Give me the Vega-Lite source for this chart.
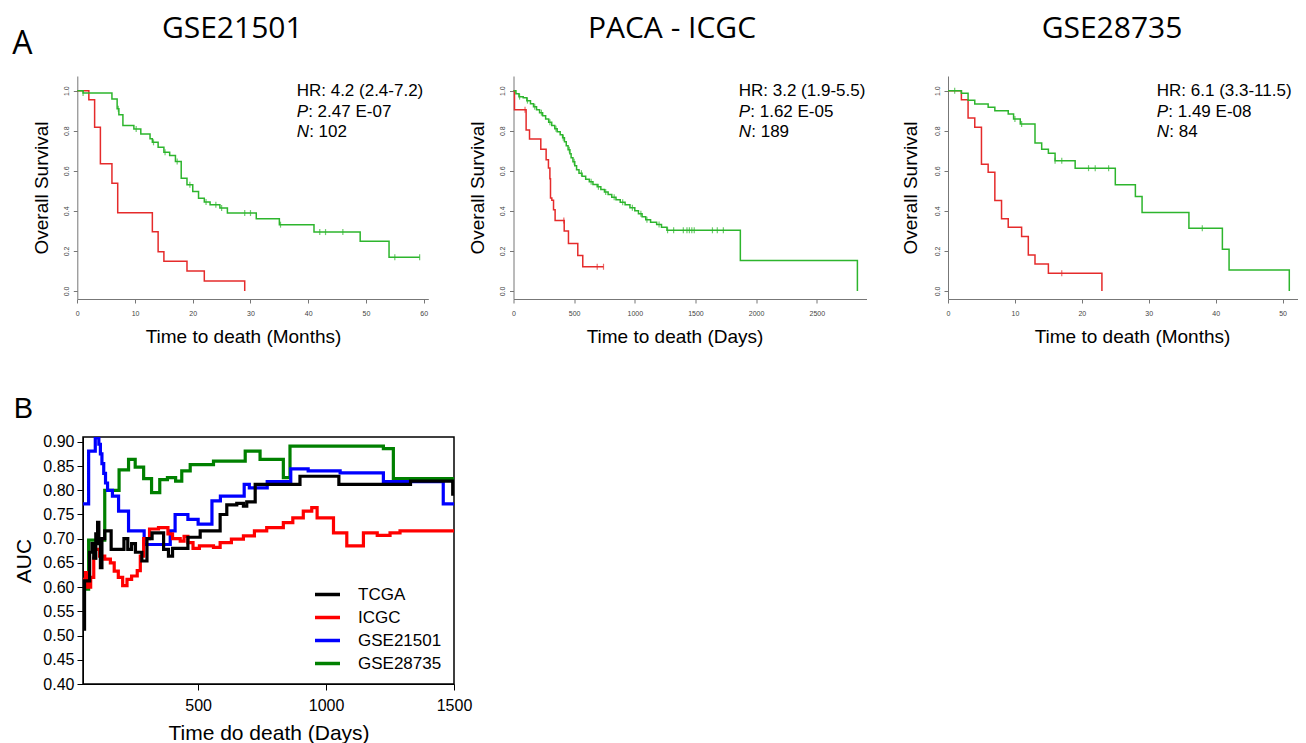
{
 "$schema": "https://vega.github.io/schema/vega-lite/v6.json",
 "padding": {"left": 12, "top": 14, "right": 0, "bottom": 0},
 "background": "white",
 "resolve": {"scale": {"color": "independent"}},
 "config": {"view": {"stroke": null}, "axis": {"grid": false, "labelFont": "Liberation Sans", "titleFont": "Liberation Sans", "titleFontWeight": "normal", "titleColor": "black", "labelOverlap": false, "labelFlush": false}},
 "datasets": {
  "km1": [
   {"g":"high","t":0,"s":1.0},{"g":"high","t":2,"s":0.955},{"g":"high","t":3,"s":0.817},{"g":"high","t":4,"s":0.635},{"g":"high","t":6,"s":0.538},{"g":"high","t":7,"s":0.39},{"g":"high","t":13,"s":0.296},{"g":"high","t":14,"s":0.196},{"g":"high","t":15,"s":0.148},{"g":"high","t":19,"s":0.1},{"g":"high","t":22,"s":0.05},{"g":"high","t":29,"s":0.0},
   {"g":"low","t":0,"s":1.0},{"g":"low","t":1,"s":0.988},{"g":"low","t":6,"s":0.958},{"g":"low","t":6.9,"s":0.909},{"g":"low","t":7.2,"s":0.88},{"g":"low","t":7.9,"s":0.826},{"g":"low","t":9.8,"s":0.809},{"g":"low","t":11,"s":0.784},{"g":"low","t":12.6,"s":0.76},{"g":"low","t":13,"s":0.742},{"g":"low","t":14,"s":0.718},{"g":"low","t":15,"s":0.693},{"g":"low","t":16,"s":0.676},{"g":"low","t":17,"s":0.646},{"g":"low","t":18,"s":0.563},{"g":"low","t":19,"s":0.53},{"g":"low","t":20,"s":0.497},{"g":"low","t":21,"s":0.463},{"g":"low","t":22,"s":0.444},{"g":"low","t":23,"s":0.43},{"g":"low","t":24.7,"s":0.414},{"g":"low","t":26,"s":0.389},{"g":"low","t":31,"s":0.36},{"g":"low","t":35,"s":0.331},{"g":"low","t":41,"s":0.294},{"g":"low","t":49,"s":0.248},{"g":"low","t":54,"s":0.168},{"g":"low","t":59.3,"s":0.168}
  ],
  "km1c": [
   {"g":"low","t":1,"s":0.988},{"g":"low","t":7.1,"s":0.909},{"g":"low","t":10.2,"s":0.809},{"g":"low","t":13.2,"s":0.742},{"g":"low","t":15.2,"s":0.693},{"g":"low","t":17.3,"s":0.646},{"g":"low","t":19.5,"s":0.53},{"g":"low","t":22.3,"s":0.444},{"g":"low","t":24,"s":0.43},{"g":"low","t":25,"s":0.414},{"g":"low","t":29,"s":0.389},{"g":"low","t":30,"s":0.389},{"g":"low","t":35.2,"s":0.331},{"g":"low","t":42,"s":0.294},{"g":"low","t":43,"s":0.294},{"g":"low","t":46,"s":0.294},{"g":"low","t":55,"s":0.168},{"g":"low","t":59.3,"s":0.168}
  ],
  "km2": [
   {"g":"high","t":0,"s":1.0},{"g":"high","t":8,"s":0.904},{"g":"high","t":104,"s":0.804},{"g":"high","t":132,"s":0.758},{"g":"high","t":225,"s":0.708},{"g":"high","t":269,"s":0.655},{"g":"high","t":288,"s":0.614},{"g":"high","t":300,"s":0.56},{"g":"high","t":305,"s":0.464},{"g":"high","t":316,"s":0.453},{"g":"high","t":330,"s":0.406},{"g":"high","t":343,"s":0.352},{"g":"high","t":418,"s":0.299},{"g":"high","t":453,"s":0.237},{"g":"high","t":530,"s":0.177},{"g":"high","t":571,"s":0.121},{"g":"high","t":742,"s":0.121},
   {"g":"low","t":0,"s":1.0},{"g":"low","t":20,"s":0.985},{"g":"low","t":45,"s":0.97},{"g":"low","t":80,"s":0.965},{"g":"low","t":110,"s":0.95},{"g":"low","t":140,"s":0.935},{"g":"low","t":165,"s":0.92},{"g":"low","t":190,"s":0.905},{"g":"low","t":215,"s":0.89},{"g":"low","t":240,"s":0.875},{"g":"low","t":265,"s":0.858},{"g":"low","t":290,"s":0.842},{"g":"low","t":315,"s":0.826},{"g":"low","t":340,"s":0.81},{"g":"low","t":360,"s":0.795},{"g":"low","t":385,"s":0.78},{"g":"low","t":405,"s":0.765},{"g":"low","t":420,"s":0.745},{"g":"low","t":435,"s":0.725},{"g":"low","t":450,"s":0.705},{"g":"low","t":465,"s":0.685},{"g":"low","t":475,"s":0.665},{"g":"low","t":490,"s":0.645},{"g":"low","t":505,"s":0.625},{"g":"low","t":520,"s":0.605},{"g":"low","t":540,"s":0.588},{"g":"low","t":565,"s":0.573},{"g":"low","t":595,"s":0.558},{"g":"low","t":625,"s":0.545},{"g":"low","t":655,"s":0.532},{"g":"low","t":690,"s":0.52},{"g":"low","t":720,"s":0.507},{"g":"low","t":750,"s":0.494},{"g":"low","t":780,"s":0.481},{"g":"low","t":810,"s":0.468},{"g":"low","t":845,"s":0.455},{"g":"low","t":880,"s":0.443},{"g":"low","t":920,"s":0.43},{"g":"low","t":960,"s":0.415},{"g":"low","t":1000,"s":0.4},{"g":"low","t":1030,"s":0.385},{"g":"low","t":1060,"s":0.37},{"g":"low","t":1090,"s":0.355},{"g":"low","t":1130,"s":0.343},{"g":"low","t":1180,"s":0.332},{"g":"low","t":1220,"s":0.318},{"g":"low","t":1265,"s":0.303},{"g":"low","t":1870,"s":0.152},{"g":"low","t":2835,"s":0.0}
  ],
  "km2c": [
   {"g":"high","t":95,"s":0.904},{"g":"high","t":415,"s":0.352},{"g":"high","t":690,"s":0.121},{"g":"high","t":742,"s":0.121},
   {"g":"low","t":50,"s":0.97},{"g":"low","t":115,"s":0.95},{"g":"low","t":175,"s":0.92},{"g":"low","t":230,"s":0.89},{"g":"low","t":300,"s":0.842},{"g":"low","t":350,"s":0.81},{"g":"low","t":410,"s":0.765},{"g":"low","t":460,"s":0.705},{"g":"low","t":500,"s":0.645},{"g":"low","t":560,"s":0.588},{"g":"low","t":640,"s":0.545},{"g":"low","t":700,"s":0.52},{"g":"low","t":760,"s":0.494},{"g":"low","t":830,"s":0.468},{"g":"low","t":900,"s":0.443},{"g":"low","t":980,"s":0.415},{"g":"low","t":1050,"s":0.385},{"g":"low","t":1100,"s":0.355},{"g":"low","t":1200,"s":0.332},{"g":"low","t":1270,"s":0.303},{"g":"low","t":1320,"s":0.303},{"g":"low","t":1400,"s":0.303},{"g":"low","t":1430,"s":0.303},{"g":"low","t":1450,"s":0.303},{"g":"low","t":1470,"s":0.303},{"g":"low","t":1490,"s":0.303},{"g":"low","t":1640,"s":0.303},{"g":"low","t":1680,"s":0.303},{"g":"low","t":1730,"s":0.303}
  ],
  "km3": [
   {"g":"high","t":0,"s":1.0},{"g":"high","t":2,"s":0.955},{"g":"high","t":3,"s":0.863},{"g":"high","t":4,"s":0.817},{"g":"high","t":5,"s":0.633},{"g":"high","t":6,"s":0.592},{"g":"high","t":7,"s":0.452},{"g":"high","t":8,"s":0.36},{"g":"high","t":9,"s":0.318},{"g":"high","t":11,"s":0.272},{"g":"high","t":12,"s":0.18},{"g":"high","t":13,"s":0.135},{"g":"high","t":15,"s":0.088},{"g":"high","t":23,"s":0.0},
   {"g":"low","t":0,"s":1.0},{"g":"low","t":2,"s":0.987},{"g":"low","t":3,"s":0.952},{"g":"low","t":4,"s":0.933},{"g":"low","t":6,"s":0.917},{"g":"low","t":7,"s":0.9},{"g":"low","t":9,"s":0.883},{"g":"low","t":9.8,"s":0.858},{"g":"low","t":10.8,"s":0.833},{"g":"low","t":13,"s":0.738},{"g":"low","t":14,"s":0.708},{"g":"low","t":15,"s":0.688},{"g":"low","t":16,"s":0.65},{"g":"low","t":19,"s":0.613},{"g":"low","t":25,"s":0.53},{"g":"low","t":28,"s":0.472},{"g":"low","t":29,"s":0.392},{"g":"low","t":36,"s":0.313},{"g":"low","t":41,"s":0.208},{"g":"low","t":42,"s":0.105},{"g":"low","t":51,"s":0.0}
  ],
  "km3c": [
   {"g":"high","t":17,"s":0.088},
   {"g":"low","t":1,"s":1.0},{"g":"low","t":10,"s":0.858},{"g":"low","t":11,"s":0.833},{"g":"low","t":16,"s":0.65},{"g":"low","t":17,"s":0.65},{"g":"low","t":21,"s":0.613},{"g":"low","t":22,"s":0.613},{"g":"low","t":24,"s":0.613},{"g":"low","t":38,"s":0.313}
  ],
  "auc": [
   {"set":"GSE28735","day":50,"auc":0.596},{"set":"GSE28735","day":72,"auc":0.697},{"set":"GSE28735","day":135,"auc":0.80},{"set":"GSE28735","day":191,"auc":0.842},{"set":"GSE28735","day":228,"auc":0.864},{"set":"GSE28735","day":254,"auc":0.848},{"set":"GSE28735","day":287,"auc":0.824},{"set":"GSE28735","day":318,"auc":0.795},{"set":"GSE28735","day":350,"auc":0.822},{"set":"GSE28735","day":380,"auc":0.826},{"set":"GSE28735","day":412,"auc":0.819},{"set":"GSE28735","day":436,"auc":0.84},{"set":"GSE28735","day":469,"auc":0.853},{"set":"GSE28735","day":560,"auc":0.86},{"set":"GSE28735","day":684,"auc":0.881},{"set":"GSE28735","day":742,"auc":0.864},{"set":"GSE28735","day":833,"auc":0.826},{"set":"GSE28735","day":859,"auc":0.891},{"set":"GSE28735","day":1224,"auc":0.886},{"set":"GSE28735","day":1263,"auc":0.824},{"set":"GSE28735","day":1500,"auc":0.824},
   {"set":"GSE21501","day":50,"auc":0.772},{"set":"GSE21501","day":72,"auc":0.881},{"set":"GSE21501","day":98,"auc":0.908},{"set":"GSE21501","day":112,"auc":0.895},{"set":"GSE21501","day":118,"auc":0.875},{"set":"GSE21501","day":124,"auc":0.855},{"set":"GSE21501","day":131,"auc":0.835},{"set":"GSE21501","day":138,"auc":0.815},{"set":"GSE21501","day":146,"auc":0.80},{"set":"GSE21501","day":165,"auc":0.788},{"set":"GSE21501","day":189,"auc":0.757},{"set":"GSE21501","day":228,"auc":0.716},{"set":"GSE21501","day":289,"auc":0.688},{"set":"GSE21501","day":391,"auc":0.716},{"set":"GSE21501","day":410,"auc":0.75},{"set":"GSE21501","day":460,"auc":0.74},{"set":"GSE21501","day":500,"auc":0.73},{"set":"GSE21501","day":554,"auc":0.778},{"set":"GSE21501","day":587,"auc":0.788},{"set":"GSE21501","day":680,"auc":0.812},{"set":"GSE21501","day":700,"auc":0.805},{"set":"GSE21501","day":770,"auc":0.818},{"set":"GSE21501","day":862,"auc":0.844},{"set":"GSE21501","day":930,"auc":0.84},{"set":"GSE21501","day":1055,"auc":0.836},{"set":"GSE21501","day":1224,"auc":0.818},{"set":"GSE21501","day":1458,"auc":0.772},{"set":"GSE21501","day":1500,"auc":0.772},
   {"set":"ICGC","day":50,"auc":0.616},{"set":"ICGC","day":60,"auc":0.63},{"set":"ICGC","day":68,"auc":0.60},{"set":"ICGC","day":80,"auc":0.62},{"set":"ICGC","day":92,"auc":0.66},{"set":"ICGC","day":98,"auc":0.678},{"set":"ICGC","day":115,"auc":0.664},{"set":"ICGC","day":135,"auc":0.658},{"set":"ICGC","day":157,"auc":0.65},{"set":"ICGC","day":172,"auc":0.633},{"set":"ICGC","day":188,"auc":0.62},{"set":"ICGC","day":205,"auc":0.603},{"set":"ICGC","day":222,"auc":0.616},{"set":"ICGC","day":240,"auc":0.623},{"set":"ICGC","day":262,"auc":0.634},{"set":"ICGC","day":274,"auc":0.664},{"set":"ICGC","day":287,"auc":0.70},{"set":"ICGC","day":310,"auc":0.72},{"set":"ICGC","day":345,"auc":0.723},{"set":"ICGC","day":382,"auc":0.71},{"set":"ICGC","day":400,"auc":0.70},{"set":"ICGC","day":430,"auc":0.695},{"set":"ICGC","day":445,"auc":0.705},{"set":"ICGC","day":460,"auc":0.692},{"set":"ICGC","day":480,"auc":0.68},{"set":"ICGC","day":505,"auc":0.685},{"set":"ICGC","day":560,"auc":0.682},{"set":"ICGC","day":586,"auc":0.692},{"set":"ICGC","day":630,"auc":0.699},{"set":"ICGC","day":677,"auc":0.706},{"set":"ICGC","day":720,"auc":0.716},{"set":"ICGC","day":768,"auc":0.723},{"set":"ICGC","day":833,"auc":0.733},{"set":"ICGC","day":870,"auc":0.743},{"set":"ICGC","day":911,"auc":0.757},{"set":"ICGC","day":944,"auc":0.764},{"set":"ICGC","day":965,"auc":0.743},{"set":"ICGC","day":1029,"auc":0.712},{"set":"ICGC","day":1081,"auc":0.685},{"set":"ICGC","day":1146,"auc":0.712},{"set":"ICGC","day":1200,"auc":0.707},{"set":"ICGC","day":1250,"auc":0.712},{"set":"ICGC","day":1289,"auc":0.716},{"set":"ICGC","day":1500,"auc":0.716},
   {"set":"TCGA","day":50,"auc":0.513},{"set":"TCGA","day":56,"auc":0.613},{"set":"TCGA","day":76,"auc":0.672},{"set":"TCGA","day":85,"auc":0.69},{"set":"TCGA","day":92,"auc":0.66},{"set":"TCGA","day":100,"auc":0.71},{"set":"TCGA","day":107,"auc":0.734},{"set":"TCGA","day":112,"auc":0.69},{"set":"TCGA","day":118,"auc":0.64},{"set":"TCGA","day":124,"auc":0.70},{"set":"TCGA","day":135,"auc":0.716},{"set":"TCGA","day":160,"auc":0.678},{"set":"TCGA","day":210,"auc":0.70},{"set":"TCGA","day":225,"auc":0.678},{"set":"TCGA","day":240,"auc":0.69},{"set":"TCGA","day":255,"auc":0.672},{"set":"TCGA","day":280,"auc":0.654},{"set":"TCGA","day":300,"auc":0.70},{"set":"TCGA","day":320,"auc":0.712},{"set":"TCGA","day":365,"auc":0.678},{"set":"TCGA","day":384,"auc":0.664},{"set":"TCGA","day":400,"auc":0.68},{"set":"TCGA","day":460,"auc":0.703},{"set":"TCGA","day":508,"auc":0.716},{"set":"TCGA","day":586,"auc":0.75},{"set":"TCGA","day":612,"auc":0.77},{"set":"TCGA","day":651,"auc":0.773},{"set":"TCGA","day":677,"auc":0.767},{"set":"TCGA","day":690,"auc":0.776},{"set":"TCGA","day":723,"auc":0.812},{"set":"TCGA","day":898,"auc":0.829},{"set":"TCGA","day":1050,"auc":0.812},{"set":"TCGA","day":1330,"auc":0.819},{"set":"TCGA","day":1495,"auc":0.792},{"set":"TCGA","day":1500,"auc":0.792}
  ]
 },
 "columns": 1,
 "align": "none",
 "spacing": 47,
 "concat": [
  {
   "title": {"text": "A", "anchor": "start", "frame": "bounds", "font": "Open Sans", "fontSize": 32, "fontWeight": "normal", "offset": -72, "dx": -20, "baseline": "alphabetic", "color": "black"},
   "spacing": 34.5,
   "hconcat": [
    {
     "width": 345.3, "height": 223,
     "title": {"text": "GSE21501", "font": "Open Sans", "fontSize": 30, "fontWeight": "normal", "frame": "group", "anchor": "middle", "dx": -23.4, "offset": 8, "baseline": "alphabetic", "color": "black"},
     "layer": [
      {"data": {"name": "km1"}, "mark": {"type": "line", "interpolate": "step-after", "strokeWidth": 1.5},
       "encoding": {
        "x": {"field": "t", "type": "quantitative", "scale": {"domain": [0, 60.8], "range": [-5.7, 345.3], "nice": false, "zero": false}, "axis": {"title": "Time to death (Months)", "values": [0,10,20,30,40,50,60], "format": "d", "labelFontSize": 7, "labelColor": "#444", "tickSize": 4, "tickColor": "#777", "domainColor": "#777", "labelPadding": 6.5, "titleFontSize": 19, "titlePadding": 11, "titleX": 160}},
        "y": {"field": "s", "type": "quantitative", "scale": {"domain": [-0.04, 1.073], "nice": false, "zero": false}, "axis": {"title": "Overall Survival", "offset": 5.7, "values": [0,0.2,0.4,0.6,0.8,1.0], "format": ".1f", "labelAngle": -90, "labelAlign": "center", "labelBaseline": "bottom", "labelFontSize": 7, "labelColor": "#444", "tickSize": 4, "tickColor": "#777", "domainColor": "#777", "labelPadding": 4, "titleFontSize": 19, "titlePadding": 11}},
        "color": {"field": "g", "type": "nominal", "scale": {"domain": ["high", "low"], "range": ["#E52B2B", "#2DB52D"]}, "legend": null}
       }},
      {"data": {"name": "km1c"}, "mark": {"type": "tick", "orient": "vertical", "size": 6, "thickness": 1.2},
       "encoding": {"x": {"field": "t", "type": "quantitative"}, "y": {"field": "s", "type": "quantitative"}, "color": {"field": "g", "type": "nominal", "legend": null}}},
      {"data": {"values": [{}]}, "mark": {"type": "text", "text": "HR: 4.2 (2.4-7.2)", "align": "left", "baseline": "middle", "font": "Liberation Sans", "fontSize": 17, "color": "black"}, "encoding": {"x": {"datum": 38}, "y": {"datum": 1.0}}},
      {"data": {"values": [{}]}, "mark": {"type": "text", "text": "P", "fontStyle": "italic", "align": "left", "baseline": "middle", "font": "Liberation Sans", "fontSize": 17, "color": "black"}, "encoding": {"x": {"datum": 38}, "y": {"datum": 0.895}}},
      {"data": {"values": [{}]}, "mark": {"type": "text", "text": ": 2.47 E-07", "dx": 11.5, "align": "left", "baseline": "middle", "font": "Liberation Sans", "fontSize": 17, "color": "black"}, "encoding": {"x": {"datum": 38}, "y": {"datum": 0.895}}},
      {"data": {"values": [{}]}, "mark": {"type": "text", "text": "N", "fontStyle": "italic", "align": "left", "baseline": "middle", "font": "Liberation Sans", "fontSize": 17, "color": "black"}, "encoding": {"x": {"datum": 38}, "y": {"datum": 0.795}}},
      {"data": {"values": [{}]}, "mark": {"type": "text", "text": ": 102", "dx": 12.5, "align": "left", "baseline": "middle", "font": "Liberation Sans", "fontSize": 17, "color": "black"}, "encoding": {"x": {"datum": 38}, "y": {"datum": 0.795}}}
     ]
    },
    {
     "width": 353, "height": 223,
     "title": {"text": "PACA - ICGC", "font": "Open Sans", "fontSize": 30, "fontWeight": "normal", "frame": "group", "anchor": "middle", "dx": -18, "offset": 8, "baseline": "alphabetic", "color": "black"},
     "layer": [
      {"data": {"name": "km2"}, "mark": {"type": "line", "interpolate": "step-after", "strokeWidth": 1.5},
       "encoding": {
        "x": {"field": "t", "type": "quantitative", "scale": {"domain": [0, 2910], "nice": false, "zero": false}, "axis": {"title": "Time to death (Days)", "values": [0,500,1000,1500,2000,2500], "format": "d", "labelFontSize": 7, "labelColor": "#444", "tickSize": 4, "tickColor": "#777", "domainColor": "#777", "labelPadding": 6.5, "titleFontSize": 19, "titlePadding": 11, "titleX": 161}},
        "y": {"field": "s", "type": "quantitative", "scale": {"domain": [-0.04, 1.073], "nice": false, "zero": false}, "axis": {"title": "Overall Survival", "values": [0,0.2,0.4,0.6,0.8,1.0], "format": ".1f", "labelAngle": -90, "labelAlign": "center", "labelBaseline": "bottom", "labelFontSize": 7, "labelColor": "#444", "tickSize": 4, "tickColor": "#777", "domainColor": "#777", "labelPadding": 4, "titleFontSize": 19, "titlePadding": 11}},
        "color": {"field": "g", "type": "nominal", "scale": {"domain": ["high", "low"], "range": ["#E52B2B", "#2DB52D"]}, "legend": null}
       }},
      {"data": {"name": "km2c"}, "mark": {"type": "tick", "orient": "vertical", "size": 6, "thickness": 1.2},
       "encoding": {"x": {"field": "t", "type": "quantitative"}, "y": {"field": "s", "type": "quantitative"}, "color": {"field": "g", "type": "nominal", "legend": null}}},
      {"data": {"values": [{}]}, "mark": {"type": "text", "text": "HR: 3.2 (1.9-5.5)", "align": "left", "baseline": "middle", "font": "Liberation Sans", "fontSize": 17, "color": "black"}, "encoding": {"x": {"datum": 1857}, "y": {"datum": 1.0}}},
      {"data": {"values": [{}]}, "mark": {"type": "text", "text": "P", "fontStyle": "italic", "align": "left", "baseline": "middle", "font": "Liberation Sans", "fontSize": 17, "color": "black"}, "encoding": {"x": {"datum": 1857}, "y": {"datum": 0.895}}},
      {"data": {"values": [{}]}, "mark": {"type": "text", "text": ": 1.62 E-05", "dx": 11.5, "align": "left", "baseline": "middle", "font": "Liberation Sans", "fontSize": 17, "color": "black"}, "encoding": {"x": {"datum": 1857}, "y": {"datum": 0.895}}},
      {"data": {"values": [{}]}, "mark": {"type": "text", "text": "N", "fontStyle": "italic", "align": "left", "baseline": "middle", "font": "Liberation Sans", "fontSize": 17, "color": "black"}, "encoding": {"x": {"datum": 1857}, "y": {"datum": 0.795}}},
      {"data": {"values": [{}]}, "mark": {"type": "text", "text": ": 189", "dx": 12.5, "align": "left", "baseline": "middle", "font": "Liberation Sans", "fontSize": 17, "color": "black"}, "encoding": {"x": {"datum": 1857}, "y": {"datum": 0.795}}}
     ]
    },
    {
     "width": 350, "height": 223,
     "title": {"text": "GSE28735", "font": "Open Sans", "fontSize": 30, "fontWeight": "normal", "frame": "group", "anchor": "middle", "dx": -11, "offset": 8, "baseline": "alphabetic", "color": "black"},
     "layer": [
      {"data": {"name": "km3"}, "mark": {"type": "line", "interpolate": "step-after", "strokeWidth": 1.5},
       "encoding": {
        "x": {"field": "t", "type": "quantitative", "scale": {"domain": [0, 52.3], "nice": false, "zero": false}, "axis": {"title": "Time to death (Months)", "values": [0,10,20,30,40,50], "format": "d", "labelFontSize": 7, "labelColor": "#444", "tickSize": 4, "tickColor": "#777", "domainColor": "#777", "labelPadding": 6.5, "titleFontSize": 19, "titlePadding": 11, "titleX": 184}},
        "y": {"field": "s", "type": "quantitative", "scale": {"domain": [-0.04, 1.073], "nice": false, "zero": false}, "axis": {"title": "Overall Survival", "values": [0,0.2,0.4,0.6,0.8,1.0], "format": ".1f", "labelAngle": -90, "labelAlign": "center", "labelBaseline": "bottom", "labelFontSize": 7, "labelColor": "#444", "tickSize": 4, "tickColor": "#777", "domainColor": "#777", "labelPadding": 4, "titleFontSize": 19, "titlePadding": 13}},
        "color": {"field": "g", "type": "nominal", "scale": {"domain": ["high", "low"], "range": ["#E52B2B", "#2DB52D"]}, "legend": null}
       }},
      {"data": {"name": "km3c"}, "mark": {"type": "tick", "orient": "vertical", "size": 6, "thickness": 1.2},
       "encoding": {"x": {"field": "t", "type": "quantitative"}, "y": {"field": "s", "type": "quantitative"}, "color": {"field": "g", "type": "nominal", "legend": null}}},
      {"data": {"values": [{}]}, "mark": {"type": "text", "text": "HR: 6.1 (3.3-11.5)", "align": "left", "baseline": "middle", "font": "Liberation Sans", "fontSize": 17, "color": "black"}, "encoding": {"x": {"datum": 31.2}, "y": {"datum": 1.0}}},
      {"data": {"values": [{}]}, "mark": {"type": "text", "text": "P", "fontStyle": "italic", "align": "left", "baseline": "middle", "font": "Liberation Sans", "fontSize": 17, "color": "black"}, "encoding": {"x": {"datum": 31.2}, "y": {"datum": 0.895}}},
      {"data": {"values": [{}]}, "mark": {"type": "text", "text": ": 1.49 E-08", "dx": 11.5, "align": "left", "baseline": "middle", "font": "Liberation Sans", "fontSize": 17, "color": "black"}, "encoding": {"x": {"datum": 31.2}, "y": {"datum": 0.895}}},
      {"data": {"values": [{}]}, "mark": {"type": "text", "text": "N", "fontStyle": "italic", "align": "left", "baseline": "middle", "font": "Liberation Sans", "fontSize": 17, "color": "black"}, "encoding": {"x": {"datum": 31.2}, "y": {"datum": 0.795}}},
      {"data": {"values": [{}]}, "mark": {"type": "text", "text": ": 84", "dx": 12.5, "align": "left", "baseline": "middle", "font": "Liberation Sans", "fontSize": 17, "color": "black"}, "encoding": {"x": {"datum": 31.2}, "y": {"datum": 0.795}}}
     ]
    }
   ]
  },
  {
   "width": 371, "height": 247,
   "view": {"stroke": "black", "strokeWidth": 1.5},
   "title": {"text": "B", "anchor": "start", "frame": "bounds", "font": "Liberation Sans", "fontSize": 29, "fontWeight": "normal", "offset": -13.3, "baseline": "alphabetic", "color": "black"},
   "data": {"name": "auc"},
   "mark": {"type": "line", "interpolate": "step-after", "strokeWidth": 3.2, "strokeJoin": "miter", "strokeCap": "butt", "clip": true},
   "encoding": {
    "x": {"field": "day", "type": "quantitative", "scale": {"domain": [50, 1500], "nice": false, "zero": false}, "axis": {"title": "Time do death (Days)", "values": [500, 1000, 1500], "format": "d", "labelFontSize": 16, "labelColor": "black", "tickSize": 6, "tickColor": "black", "domainColor": "black", "labelPadding": 7, "titleFontSize": 21, "titlePadding": 9}},
    "y": {"field": "auc", "type": "quantitative", "scale": {"domain": [0.4, 0.91], "nice": false, "zero": false}, "axis": {"title": "AUC", "values": [0.40,0.45,0.50,0.55,0.60,0.65,0.70,0.75,0.80,0.85,0.90], "format": ".2f", "labelFontSize": 16, "labelColor": "black", "tickSize": 6, "tickColor": "black", "domainColor": "black", "labelPadding": 3, "titleFontSize": 21, "titlePadding": 8}},
    "color": {"field": "set", "type": "nominal", "scale": {"domain": ["TCGA", "ICGC", "GSE21501", "GSE28735"], "range": ["#000000", "#FF0000", "#0000FF", "#008000"]},
     "legend": {"orient": "bottom-right", "offset": 12, "title": null, "symbolType": "stroke", "symbolStrokeWidth": 3.5, "symbolSize": 625, "labelFontSize": 17, "labelFont": "Liberation Sans", "labelColor": "black", "labelOffset": 16, "rowPadding": -2, "padding": 0}}
   }
  }
 ]
}
